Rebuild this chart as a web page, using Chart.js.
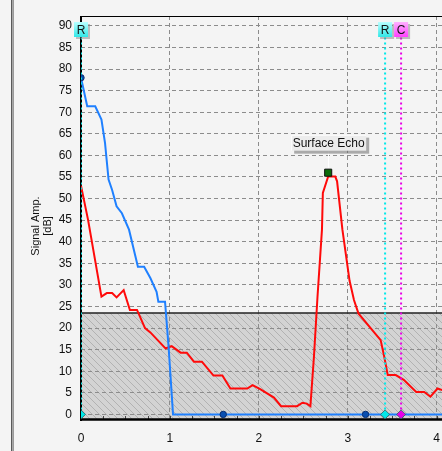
<!DOCTYPE html>
<html>
<head>
<meta charset="utf-8">
<script src="https://cdn.jsdelivr.net/npm/chart.js@4.4.1/dist/chart.umd.min.js"></script>
<style>
  html, body { margin: 0; padding: 0; background: #f4f4f4; overflow: hidden; }
  #wrap { width: 442px; height: 451px; }
</style>
</head>
<body>
<div id="wrap"><canvas id="c" width="442" height="451"></canvas></div>
<script>
// ---- data ----
const xTicks = [0, 1, 2, 3, 4];
const yTicks = [0, 5, 10, 15, 20, 25, 30, 35, 40, 45, 50, 55, 60, 65, 70, 75, 80, 85, 90];

const blueX = [0, 0.07, 0.16, 0.23, 0.27, 0.31, 0.35, 0.40, 0.46, 0.54, 0.64, 0.71, 0.78, 0.85, 0.87, 0.945, 0.985, 1.035, 4.1];
const blueY = [78, 71.4, 71.4, 68.3, 62.9, 54.4, 52, 48.2, 46.6, 42.8, 34.2, 34.2, 31.6, 28.4, 26.1, 26.1, 15.7, 0, 0];

const redX = [0, 0.08, 0.23, 0.29, 0.35, 0.40, 0.48, 0.55, 0.63, 0.72, 0.78, 0.95, 1.02, 1.12, 1.19, 1.27, 1.36, 1.49, 1.59, 1.68, 1.87, 1.93, 2.02, 2.17, 2.25, 2.43, 2.49, 2.54, 2.58, 2.62, 2.66, 2.71, 2.72, 2.78, 2.86, 2.88, 2.94, 3.02, 3.07, 3.12, 3.37, 3.41, 3.45, 3.54, 3.63, 3.77, 3.86, 3.93, 4.01, 4.07];
const redY = [53, 45, 27.3, 28.1, 28.1, 27.1, 28.8, 24.2, 24.2, 20, 19, 15.3, 15.8, 14.3, 14.3, 12.2, 12.2, 9, 9, 6, 6, 6.8, 5.8, 3.9, 1.9, 1.9, 2.7, 2.5, 1.9, 13.4, 27.3, 42.8, 51.3, 55.1, 55.1, 54, 42.8, 31, 26.5, 23.4, 17.2, 13.4, 9.1, 9.1, 8, 5.2, 5.2, 4.1, 6, 5.6];

const blueMarkX = [0, 1.6, 3.2];
const blueMarkY = [78, 0, 0];

const cursorX = [0, 3.42, 3.6];
const cursorLabels = ['R', 'R', 'C'];
const cursorTop = 88;

const gateLevel = 23.5;

const echoX = [2.78];
const echoY = [56];
const echoLabel = 'Surface Echo';

const yTitle = ['Signal Amp.', '[dB]'];

// ---- helpers ----
const pts = (xs, ys) => xs.map((x, i) => ({ x: x, y: ys[i] }));
const cyan = 'rgb(0,232,232)';
const magenta = 'rgb(232,0,232)';
const cursorColors = [cyan, cyan, magenta];

Chart.defaults.font.family = "'Liberation Sans', Arial, sans-serif";
Chart.defaults.font.size = 11;
Chart.defaults.color = '#111';

function hatchPattern(ctx) {
  const p = document.createElement('canvas');
  p.width = 7; p.height = 7;
  const g = p.getContext('2d');
  g.fillStyle = '#d3d3d3';
  g.fillRect(0, 0, 7, 7);
  g.strokeStyle = '#b2b2b2';
  g.lineWidth = 1;
  g.beginPath();
  g.moveTo(-1, -1); g.lineTo(8, 8);
  g.moveTo(-1, 6); g.lineTo(1, 8);
  g.moveTo(6, -1); g.lineTo(8, 1);
  g.stroke();
  return ctx.createPattern(p, 'repeat');
}

const decor = {
  id: 'decor',
  beforeDraw(chart) {
    const { ctx, chartArea: a, scales: { y } } = chart;
    ctx.save();
    ctx.fillStyle = '#f4f4f4';
    ctx.fillRect(0, 0, chart.width, chart.height);
    // window frame at left
    ctx.fillStyle = '#5a5a5a';
    ctx.fillRect(11, 0, 1.5, chart.height);
    ctx.fillStyle = '#9a9a9a';
    ctx.fillRect(13, 0, 1, chart.height);
    // gate band
    const yt = y.getPixelForValue(gateLevel);
    ctx.fillStyle = hatchPattern(ctx);
    ctx.fillRect(a.left, yt, a.right - a.left, a.bottom - yt);
    ctx.restore();
  },
  beforeDatasetsDraw(chart) {
    const { ctx, chartArea: a, scales: { x, y } } = chart;
    ctx.save();
    ctx.strokeStyle = '#000';
    // top border
    ctx.lineWidth = 1;
    ctx.beginPath(); ctx.moveTo(a.left, a.top + 0.5); ctx.lineTo(a.right, a.top + 0.5); ctx.stroke();
    // band top border
    const yt = y.getPixelForValue(gateLevel);
    ctx.strokeStyle = '#222';
    ctx.lineWidth = 1.5;
    ctx.beginPath(); ctx.moveTo(a.left, yt); ctx.lineTo(a.right, yt); ctx.stroke();
    // minor x ticks
    ctx.strokeStyle = '#444';
    ctx.lineWidth = 1;
    ctx.beginPath();
    for (let v = 0.25; v < x.max; v += 0.25) {
      const px = Math.round(x.getPixelForValue(v)) + 0.5;
      ctx.moveTo(px, a.bottom); ctx.lineTo(px, a.bottom - 4);
    }
    ctx.stroke();
    // axes
    ctx.strokeStyle = '#000';
    ctx.lineWidth = 2;
    ctx.beginPath(); ctx.moveTo(a.left, a.top); ctx.lineTo(a.left, a.bottom + 1); ctx.stroke();
    ctx.lineWidth = 2.5;
    ctx.beginPath(); ctx.moveTo(a.left, a.bottom - 0.5); ctx.lineTo(a.right, a.bottom - 0.5); ctx.stroke();
    ctx.restore();
  },
  afterDatasetsDraw(chart) {
    const { ctx, scales: { x, y } } = chart;
    ctx.save();
    // cursor label boxes
    cursorX.forEach((cx, i) => {
      const px = x.getPixelForValue(cx);
      const w = 14, h = 15, top = 22;
      const l = px - w / 2;
      ctx.fillStyle = 'rgba(120,120,120,0.45)';
      ctx.fillRect(l + 2, top + 2, w, h);
      const g = ctx.createLinearGradient(0, top, 0, top + h);
      if (cursorColors[i] === magenta) {
        g.addColorStop(0, '#ffb0ff'); g.addColorStop(1, '#ff40ff');
      } else {
        g.addColorStop(0, '#b8ffff'); g.addColorStop(1, '#30e8e8');
      }
      ctx.fillStyle = g;
      ctx.fillRect(l, top, w, h);
      ctx.fillStyle = '#111';
      ctx.font = "12px 'Liberation Sans', Arial, sans-serif";
      ctx.textAlign = 'center';
      ctx.textBaseline = 'middle';
      ctx.fillText(cursorLabels[i], px, top + h / 2 + 1);
    });
    // surface echo label
    const ex = x.getPixelForValue(echoX[0]);
    const ey = y.getPixelForValue(echoY[0]);
    const bw = 75, bh = 16, bl = ex - 37, bt = ey - 38;
    ctx.strokeStyle = '#ffffff';
    ctx.lineWidth = 1;
    ctx.beginPath(); ctx.moveTo(Math.round(ex) + 0.5, bt + bh); ctx.lineTo(Math.round(ex) + 0.5, ey - 5); ctx.stroke();
    ctx.fillStyle = 'rgba(110,110,110,0.55)';
    ctx.fillRect(bl + 3, bt + 3, bw, bh);
    ctx.fillStyle = '#ececec';
    ctx.fillRect(bl, bt, bw, bh);
    ctx.strokeStyle = '#ffffff';
    ctx.beginPath(); ctx.moveTo(bl + 0.5, bt + bh); ctx.lineTo(bl + 0.5, bt + 0.5); ctx.lineTo(bl + bw, bt + 0.5); ctx.stroke();
    ctx.fillStyle = '#111';
    ctx.font = "12px 'Liberation Sans', Arial, sans-serif";
    ctx.textAlign = 'center';
    ctx.textBaseline = 'middle';
    ctx.fillText(echoLabel, bl + bw / 2, bt + bh / 2 + 1);
    // y axis title
    ctx.save();
    ctx.font = "11px 'Liberation Sans', Arial, sans-serif";
    ctx.translate(40, 226);
    ctx.rotate(-Math.PI / 2);
    ctx.fillText(yTitle[0], 0, -4);
    ctx.fillText(yTitle[1], 0, 8);
    ctx.restore();
    ctx.restore();
  }
};

const datasets = [
  { data: pts(redX, redY), borderColor: '#ff0a0a', borderWidth: 2, showLine: true, pointRadius: 0, order: 3 },
  { data: pts(blueX, blueY), borderColor: '#1f80ff', borderWidth: 2, showLine: true, pointRadius: 0, order: 2 },
  { data: pts(blueMarkX, blueMarkY), pointStyle: 'circle', pointRadius: 3.2, backgroundColor: '#0a4fb0', borderColor: '#0a2f70', borderWidth: 1, showLine: false, order: 1 }
];
cursorX.forEach((cx, i) => {
  datasets.push({
    data: [{ x: cx, y: 0 }, { x: cx, y: cursorTop }],
    borderColor: cursorColors[i], borderWidth: 2, borderDash: [2, 3], showLine: true,
    pointRadius: [4.5, 0], pointStyle: 'rectRot', backgroundColor: cursorColors[i],
    pointBorderColor: '#2a6060', pointBorderWidth: 0.8, order: 0
  });
});
datasets.push({
  data: pts(echoX, echoY), pointStyle: 'rect', pointRadius: 5, backgroundColor: '#0b6b0b',
  borderColor: '#111', borderWidth: 1, showLine: false, order: -1
});

new Chart(document.getElementById('c'), {
  type: 'scatter',
  data: { datasets },
  options: {
    responsive: false,
    animation: false,
    devicePixelRatio: 1,
    layout: { autoPadding: false, padding: { top: 16, left: 0, right: 0, bottom: 0 } },
    plugins: { legend: { display: false }, tooltip: { enabled: false } },
    scales: {
      x: {
        type: 'linear', min: 0, max: 4.06,
        afterBuildTicks: s => { s.ticks = xTicks.map(v => ({ value: v })); },
        afterFit: s => { s.height = 31; s.paddingLeft = 0; s.paddingRight = 0; },
        grid: { color: '#8c8c8c', drawTicks: false, lineWidth: 1 },
        border: { display: false, dash: [4, 3] },
        ticks: { padding: 11, maxRotation: 0, color: '#111', font: { size: 12 } }
      },
      y: {
        type: 'linear', min: -1.3, max: 92.3,
        afterBuildTicks: s => { s.ticks = yTicks.map(v => ({ value: v })); },
        afterFit: s => { s.width = 81; s.paddingTop = 0; s.paddingBottom = 0; },
        grid: { color: '#8c8c8c', drawTicks: false, lineWidth: 1 },
        border: { display: false, dash: [4, 3] },
        ticks: { padding: 9, color: '#111', font: { size: 12 } }
      }
    }
  },
  plugins: [decor]
});
</script>
</body>
</html>
